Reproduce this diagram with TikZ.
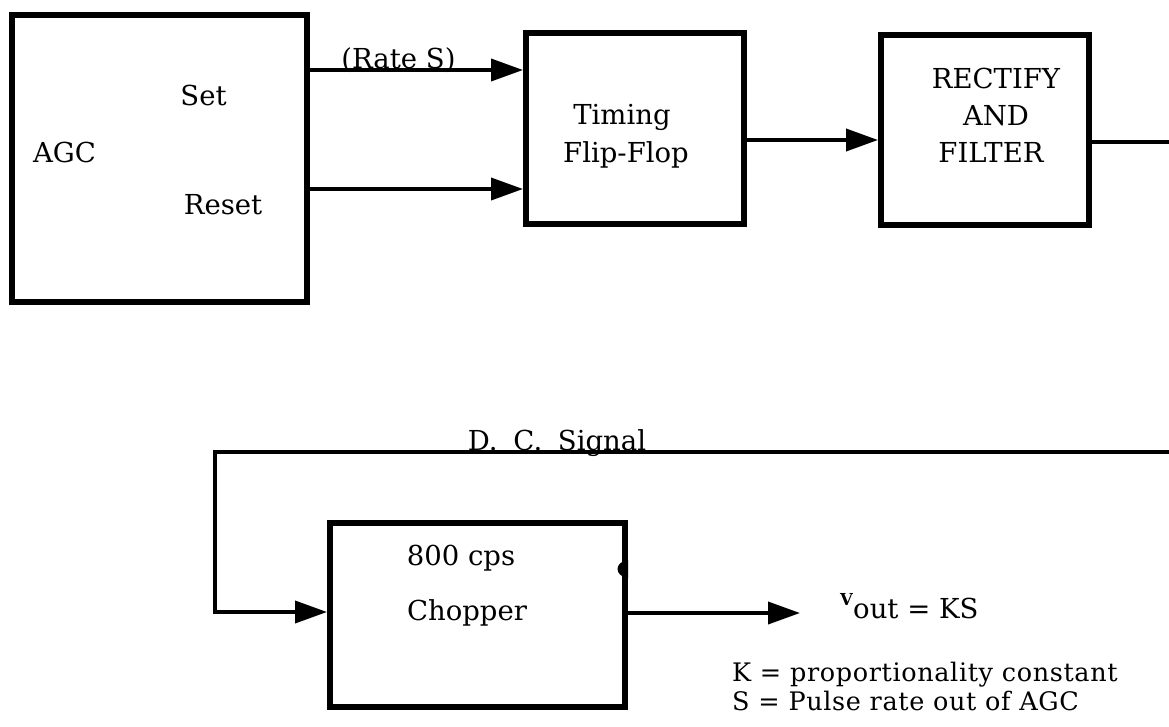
\documentclass[tikz,border=0pt]{standalone}
\usepackage{fontspec}
\setmainfont{DejaVu Serif}
\newfontfamily\legendfont{DejaVu Serif}[LetterSpace=2.5]
\usetikzlibrary{arrows.meta}
\begin{document}
\begin{tikzpicture}[x=1pt,y=-1pt,
  box/.style={draw, line width=6pt, inner sep=0pt},
  conn/.style={line width=3.8pt},
  arr/.style={conn, -{Triangle[length=32pt,width=22pt]}},
  txt/.style={inner sep=0pt, font=\fontsize{27.5}{32}\selectfont},
  legend/.style={inner sep=0pt, font=\legendfont\fontsize{25.5}{30}\selectfont},
  small/.style={inner sep=0pt, font=\fontsize{16.5}{20}\selectfont\bfseries}]
\useasboundingbox (0,0) rectangle (1169,726);
% boxes
\node[box, minimum width=295pt, minimum height=287pt] (agc) at (159.5,158.5) {};
\node[box, minimum width=218pt, minimum height=191pt] (timing) at (635,128.5) {};
\node[box, minimum width=208pt, minimum height=190pt] (rectify) at (985,130) {};
\node[box, minimum width=295pt, minimum height=184pt] (chopper) at (477.5,615) {};
% texts
\node[txt, anchor=base] (agclbl) at (64.5,162) {AGC};
\node[txt, anchor=base] (setlbl) at (203.5,105) {Set};
\node[txt, anchor=base] (resetlbl) at (223,214) {Reset};
\node[txt, anchor=base] (ratelbl) at (398.5,68) {(Rate S)};
\node[txt, anchor=base] (timinglbl) at (622,124) {Timing};
\node[txt, anchor=base] (fliplbl) at (626,162) {Flip-Flop};
\node[txt, anchor=base] (rectlbl) at (996,88) {RECTIFY};
\node[txt, anchor=base] (andlbl) at (996,125) {AND};
\node[txt, anchor=base] (filterlbl) at (991,162) {FILTER};
\node[txt, anchor=base] (dclbl) at (557,450) {D.\hspace{7pt} C.\hspace{7pt} Signal};
\node[txt, anchor=base] (cpslbl) at (461,565) {800 cps};
\node[txt, anchor=base] (choplbl) at (467,620) {Chopper};
\node[small, anchor=base west] (vlbl) at (840,605) {V};
\node[txt, anchor=base west] (voutlbl) at (853,618) {out = KS};
\node[legend, anchor=base west] (klbl) at (732,681) {K = proportionality constant};
\node[legend, anchor=base west] (slbl) at (732,710) {S = Pulse rate out of AGC};
% connectors
\draw[arr] (agc.east |- 0,70) -- (timing.west |- 0,70);
\draw[arr] (agc.east |- 0,189) -- (timing.west |- 0,189);
\draw[arr] (timing.east |- 0,140) -- (rectify.west |- 0,140);
\coordinate (rout) at (1175,142);
\draw[conn] (rectify.east |- rout) -- (rout);
\coordinate (dcR) at (1175,452);
\coordinate (dcL) at (215,452);
\draw[arr] (dcR) -- (dcL) |- (chopper.west |- 0,612);
\coordinate (outtip) at (800,613);
\draw[arr] (chopper.east |- outtip) -- (outtip);
% small mark on chopper edge
\fill (chopper.east |- 0,560) .. controls (614,562) and (614,576) .. (chopper.east |- 0,578) -- cycle;
\end{tikzpicture}
\end{document}
